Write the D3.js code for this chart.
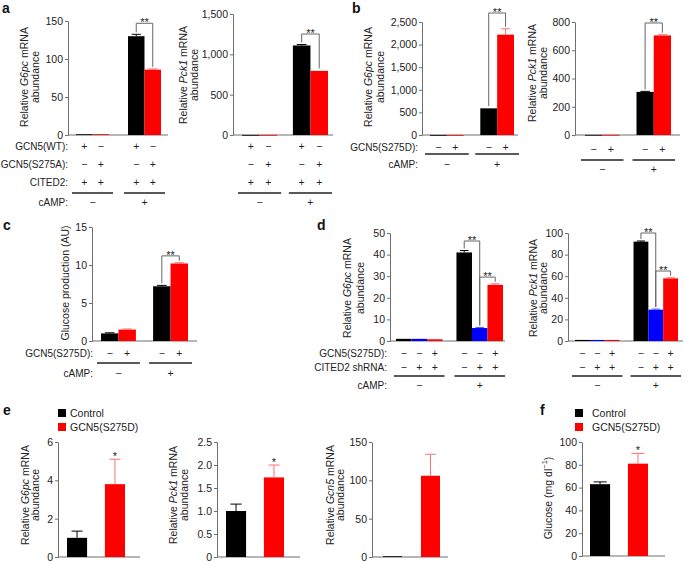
<!DOCTYPE html>
<html><head><meta charset="utf-8">
<script src="https://cdn.jsdelivr.net/npm/d3@7"></script>
<style>body{margin:0;background:#fff} svg{display:block}</style>
</head><body>
<svg id="fig" width="685" height="562"></svg>
<script>
// ---------- DATA ----------
const campGroups = ["cAMP −", "cAMP +"];
const campSigns = ["−", "+"];

// panel a
const aSeries = ["GCN5(WT)", "GCN5(S275A)"];
const aG6pcValues = [1.0, 1.0, 130, 86];
const aG6pcErrors = [0.3, 0.3, 2.5, 1.0];
const aG6pcTicks = [0, 50, 100, 150];
const aPck1Values = [1.0, 1.0, 1110, 795];
const aPck1Errors = [0.5, 0.5, 12, 5];
const aPck1Ticks = [0, 500, 1000, 1500];
const aRowLabels = ["GCN5(WT):", "GCN5(S275A):", "CITED2:"];
const aRowSigns = [["+", "−", "+", "−"], ["−", "+", "−", "+"], ["+", "+", "+", "+"]];

// panel b
const bSeries = ["Control", "GCN5(S275D)"];
const bG6pcValues = [1, 1, 590, 2220];
const bG6pcErrors = [0.5, 0.5, 5, 130];
const bG6pcTicks = [0, 500, 1000, 1500, 2000, 2500];
const bPck1Values = [1, 1, 305, 705];
const bPck1Errors = [0.3, 0.3, 4, 5];
const bPck1Ticks = [0, 200, 400, 600, 800];
const bRowLabels = ["GCN5(S275D):"];
const bRowSigns = [["−", "+", "−", "+"]];

// panel c
const cValues = [1.0, 1.5, 7.2, 10.2];
const cErrors = [0.08, 0.08, 0.12, 0.1];
const cTicks = [0, 5, 10, 15];

// panel d
const dSeries = ["Control", "CITED2 shRNA", "GCN5(S275D)+CITED2 shRNA"];
const dG6pcValues = [1, 1, 0.8, 41, 6, 26];
const dG6pcErrors = [0.1, 0.1, 0.1, 0.9, 0.3, 0.5];
const dG6pcTicks = [0, 10, 20, 30, 40, 50];
const dPck1Values = [1, 1, 1, 92, 29, 58];
const dPck1Errors = [0.2, 0.2, 0.2, 0.6, 0.6, 0.6];
const dPck1Ticks = [0, 20, 40, 60, 80, 100];
const dRowLabels = ["GCN5(S275D):", "CITED2 shRNA:"];
const dRowSigns = [["−", "−", "+", "−", "−", "+"], ["−", "+", "+", "−", "+", "+"]];

// panel e / f
const efGroups = ["mice"];
const efSeries = ["Control", "GCN5(S275D)"];
const eG6pcValues = [1.0, 3.8];
const eG6pcErrors = [0.35, 1.3];
const eG6pcTicks = [0, 2, 4, 6];
const ePck1Values = [1.0, 1.73];
const ePck1Errors = [0.15, 0.27];
const ePck1Ticks = [0, 0.5, 1.0, 1.5, 2.0, 2.5];
const eGcn5Values = [1, 106];
const eGcn5Errors = [0.3, 28];
const eGcn5Ticks = [0, 50, 100, 150];
const fValues = [63, 81];
const fErrors = [2, 9];
const fTicks = [0, 20, 40, 60, 80, 100];

// ---------- DRAWING ----------
const svg = d3.select("#fig");
const FONT = "Arial, 'Liberation Sans', Helvetica, sans-serif";
const TXT = "#222";
const AX = "#6e6e6e";
const BLACK = "#000", RED = "#ff0000", BLUE = "#0000ff";
const ERR = {"#000": "#000", "#ff0000": "#ff7070", "#0000ff": "#5050ff"};
const comma = d3.format(",");

function drawChart(c) {
  const g = svg.append("g");
  const y = d3.scaleLinear().domain([0, c.max]).range([c.y0, c.y1]);
  const gx = d3.scaleBand().domain(c.groups).range([c.g0, c.g1]).paddingInner(c.pad || 0);
  const sx = d3.scaleBand().domain(c.series).range([0, gx.bandwidth()]).paddingInner(c.innerPad || 0);
  const nS = c.series.length;
  const bars = c.values.map((v, i) => {
    const grp = c.groups[Math.floor(i / nS)], s = c.series[i % nS];
    const x = gx(grp) + sx(s);
    return {v, e: c.errors[i], x, w: sx.bandwidth(), cx: x + sx.bandwidth() / 2,
            color: c.colors[i % nS], top: y(v + c.errors[i])};
  });

  // axis
  const ax = g.append("g").attr("transform", `translate(${c.ax0},0)`)
    .call(d3.axisLeft(y).tickValues(c.ticks).tickFormat(c.fmt || d3.format("d"))
      .tickSize(3).tickSizeOuter(0).tickPadding(2));
  ax.attr("font-family", FONT).attr("font-size", 10.5);
  ax.select(".domain").attr("stroke", AX);
  ax.selectAll(".tick line").attr("stroke", AX);
  ax.selectAll(".tick text").attr("fill", TXT);
  g.append("line").attr("x1", c.ax0).attr("x2", c.ax1).attr("y1", c.y0).attr("y2", c.y0)
    .attr("stroke", AX).attr("stroke-width", 1);

  // bars
  g.selectAll("rect.bar").data(bars).join("rect").attr("class", "bar")
    .attr("x", d => d.x).attr("width", d => d.w)
    .attr("y", d => y(d.v)).attr("height", d => Math.max(0.8, c.y0 - y(d.v)))
    .attr("fill", d => d.color);

  // error bars
  const cap = c.cap || 0.55;
  bars.filter(d => d.e > 0 && (y(d.v) - d.top) > 0.5).forEach(d => {
    const col = ERR[d.color];
    g.append("line").attr("x1", d.cx).attr("x2", d.cx).attr("y1", y(d.v)).attr("y2", d.top)
      .attr("stroke", col).attr("stroke-width", 1);
    g.append("line").attr("x1", d.cx - d.w * cap / 2).attr("x2", d.cx + d.w * cap / 2)
      .attr("y1", d.top).attr("y2", d.top).attr("stroke", col).attr("stroke-width", 1);
  });

  // significance brackets
  (c.brackets || []).forEach(([i, j, lvl]) => {
    const a = bars[i], b = bars[j], by = y(lvl);
    g.append("path").attr("d", `M${a.cx},${a.top - 2}V${by}H${b.cx}V${b.top - 2}`)
      .attr("fill", "none").attr("stroke", "#666").attr("stroke-width", 1);
    g.append("text").attr("x", (a.cx + b.cx) / 2).attr("y", by + 3).attr("text-anchor", "middle")
      .attr("font-family", FONT).attr("font-size", 11).attr("fill", TXT).text("**");
  });
  (c.stars || []).forEach(([i, s]) => {
    const a = bars[i];
    g.append("text").attr("x", a.cx).attr("y", a.top + 1).attr("text-anchor", "middle")
      .attr("font-family", FONT).attr("font-size", 11).attr("fill", TXT).text(s);
  });

  // y label
  const lab = g.append("g");
  c.label.forEach((line, k) => {
    const t = lab.append("text")
      .attr("transform", `translate(${c.lx[k]},${c.ly}) rotate(-90)`)
      .attr("text-anchor", "middle").attr("dominant-baseline", "central")
      .attr("font-family", FONT).attr("font-size", 10.5).attr("fill", TXT);
    line.forEach(seg => {
      const ts = t.append("tspan").text(seg.t);
      if (seg.i) ts.attr("font-style", "italic");
      if (seg.sup) ts.attr("dy", -4).attr("font-size", 7.5);
      if (seg.unsup) ts.attr("dy", 4);
    });
  });

  // condition rows
  if (c.rowSigns) {
    c.rowSigns.forEach((signs, r) => {
      if (c.rowLabels) {
        g.append("text").attr("x", c.rowLabelX).attr("y", c.rowYs[r]).attr("text-anchor", "end")
          .attr("dominant-baseline", "central").attr("font-family", FONT).attr("font-size", 10)
          .attr("fill", TXT).text(c.rowLabels[r]);
      }
      bars.forEach((d, i) => {
        g.append("text").attr("x", d.cx).attr("y", c.rowYs[r]).attr("text-anchor", "middle")
          .attr("dominant-baseline", "central").attr("font-family", FONT).attr("font-size", 10.5)
          .attr("fill", TXT).text(signs[i]);
      });
    });
    c.groups.forEach((grp, k) => {
      g.append("line").attr("x1", gx(grp) - c.lineExt).attr("x2", gx(grp) + gx.bandwidth() + c.lineExt)
        .attr("y1", c.lineY).attr("y2", c.lineY).attr("stroke", "#222").attr("stroke-width", 1.3);
      g.append("text").attr("x", gx(grp) + gx.bandwidth() / 2).attr("y", c.campY)
        .attr("text-anchor", "middle").attr("dominant-baseline", "central")
        .attr("font-family", FONT).attr("font-size", 10.5).attr("fill", TXT).text(campSigns[k]);
    });
    if (c.rowLabels) {
      g.append("text").attr("x", c.rowLabelX).attr("y", c.campY).attr("text-anchor", "end")
        .attr("dominant-baseline", "central").attr("font-family", FONT).attr("font-size", 10)
        .attr("fill", TXT).text("cAMP:");
    }
  }
}

const L = (pre, gene, post) => [{t: pre}, {t: gene, i: true}, {t: post}];
const AB = [{t: "abundance"}];

// panel a
drawChart({groups: campGroups, series: aSeries, values: aG6pcValues, errors: aG6pcErrors,
  colors: [BLACK, RED], ticks: aG6pcTicks, max: 150, ax0: 68, ax1: 168, y0: 135, y1: 21,
  g0: 76, g1: 161, pad: 0.365, brackets: [[2, 3, 147]],
  label: [L("Relative ", "G6pc", " mRNA"), AB], lx: [24, 35], ly: 77,
  rowLabels: aRowLabels, rowSigns: aRowSigns, rowLabelX: 68, rowYs: [146, 164, 182],
  lineY: 193, campY: 202, lineExt: 4});
drawChart({groups: campGroups, series: aSeries, values: aPck1Values, errors: aPck1Errors,
  colors: [BLACK, RED], ticks: aPck1Ticks, fmt: comma, max: 1500, ax0: 233, ax1: 333, y0: 135, y1: 14,
  g0: 242, g1: 328, pad: 0.31, brackets: [[2, 3, 1252]],
  label: [L("Relative ", "Pck1", " mRNA"), AB], lx: [183, 194], ly: 75,
  rowSigns: aRowSigns, rowYs: [146, 164, 182], lineY: 193, campY: 202, lineExt: 4});

// panel b
drawChart({groups: campGroups, series: bSeries, values: bG6pcValues, errors: bG6pcErrors,
  colors: [BLACK, RED], ticks: bG6pcTicks, fmt: comma, max: 2500, ax0: 422, ax1: 518, y0: 135, y1: 22,
  g0: 430, g1: 514, pad: 0.33, brackets: [[2, 3, 2699]],
  label: [L("Relative ", "G6pc", " mRNA"), AB], lx: [368, 380], ly: 77,
  rowLabels: bRowLabels, rowSigns: bRowSigns, rowLabelX: 418, rowYs: [147],
  lineY: 154, campY: 164, lineExt: 5});
drawChart({groups: campGroups, series: bSeries, values: bPck1Values, errors: bPck1Errors,
  colors: [BLACK, RED], ticks: bPck1Ticks, max: 800, ax0: 575, ax1: 680, y0: 135, y1: 22,
  g0: 585, g1: 671, pad: 0.33, brackets: [[2, 3, 793]],
  label: [L("Relative ", "Pck1", " mRNA"), AB], lx: [532, 543], ly: 73,
  rowSigns: bRowSigns, rowYs: [149], lineY: 160, campY: 169, lineExt: 4});

// panel c
drawChart({groups: campGroups, series: bSeries, values: cValues, errors: cErrors,
  colors: [BLACK, RED], ticks: cTicks, max: 15, ax0: 92, ax1: 197, y0: 341, y1: 227,
  g0: 101, g1: 188, pad: 0.33, brackets: [[2, 3, 11.2]],
  label: [[{t: "Glucose production (AU)"}]], lx: [65], ly: 283,
  rowLabels: bRowLabels, rowSigns: bRowSigns, rowLabelX: 93, rowYs: [353],
  lineY: 363, campY: 373, lineExt: 4});

// panel d
drawChart({groups: campGroups, series: dSeries, values: dG6pcValues, errors: dG6pcErrors,
  colors: [BLACK, BLUE, RED], ticks: dG6pcTicks, max: 50, ax0: 390, ax1: 505, y0: 341, y1: 233,
  g0: 396, g1: 503, pad: 0.23, brackets: [[3, 4, 46.3], [4, 5, 29.6]],
  label: [L("Relative ", "G6pc", " mRNA"), AB], lx: [347, 360], ly: 288,
  rowLabels: dRowLabels, rowSigns: dRowSigns, rowLabelX: 387, rowYs: [353, 367],
  lineY: 376, campY: 385, lineExt: 2});
drawChart({groups: campGroups, series: dSeries, values: dPck1Values, errors: dPck1Errors,
  colors: [BLACK, BLUE, RED], ticks: dPck1Ticks, max: 100, ax0: 568, ax1: 683, y0: 341, y1: 233,
  g0: 575, g1: 678, pad: 0.24, brackets: [[3, 4, 100], [4, 5, 64.8]],
  label: [L("Relative ", "Pck1", " mRNA"), AB], lx: [533, 543], ly: 288,
  rowSigns: dRowSigns, rowYs: [353, 367], lineY: 376, campY: 385, lineExt: 3});

// panel e
drawChart({groups: efGroups, series: efSeries, values: eG6pcValues, errors: eG6pcErrors,
  colors: [BLACK, RED], ticks: eG6pcTicks, max: 6, ax0: 58, ax1: 140, y0: 557, y1: 442,
  g0: 67, g1: 125, innerPad: 0.47, stars: [[1, "*"]],
  label: [L("Relative ", "G6pc", " mRNA"), AB], lx: [25, 35], ly: 495});
drawChart({groups: efGroups, series: efSeries, values: ePck1Values, errors: ePck1Errors,
  colors: [BLACK, RED], ticks: ePck1Ticks, fmt: d => d === 0 ? "0" : d3.format(".1f")(d),
  max: 2.5, ax0: 217, ax1: 300, y0: 557, y1: 442,
  g0: 226, g1: 284, innerPad: 0.47, stars: [[1, "*"]],
  label: [L("Relative ", "Pck1", " mRNA"), AB], lx: [173, 184], ly: 495});
drawChart({groups: efGroups, series: efSeries, values: eGcn5Values, errors: eGcn5Errors,
  colors: [BLACK, RED], ticks: eGcn5Ticks, max: 150, ax0: 372, ax1: 448, y0: 557, y1: 442,
  g0: 383, g1: 440, innerPad: 0.5,
  label: [L("Relative ", "Gcn5", " mRNA"), AB], lx: [330, 340], ly: 495});

// panel f
drawChart({groups: efGroups, series: efSeries, values: fValues, errors: fErrors,
  colors: [BLACK, RED], ticks: fTicks, max: 100, ax0: 582, ax1: 665, y0: 556, y1: 442,
  g0: 590, g1: 648, innerPad: 0.47, stars: [[1, "*"]], cap: 0.65,
  label: [[{t: "Glucose (mg dl"}, {t: "−1", sup: true}, {t: ")", unsup: true}]], lx: [548], ly: 498});

// legends
function legend(x, y0, textOff) {
  efSeries.forEach((s, k) => {
    svg.append("rect").attr("x", x).attr("y", y0 + k * 14 - 4).attr("width", 8).attr("height", 8)
      .attr("fill", [BLACK, RED][k]);
    svg.append("text").attr("x", x + textOff).attr("y", y0 + k * 14).attr("dominant-baseline", "central")
      .attr("font-family", FONT).attr("font-size", 10.5).attr("fill", TXT).text(s);
  });
}
legend(58, 413, 12);
legend(575, 413, 17);

// panel letters
[["a", 2, 13], ["b", 352, 13], ["c", 3, 230], ["d", 317, 230], ["e", 3, 415], ["f", 540, 415]]
  .forEach(([t, x, y]) => svg.append("text").attr("x", x).attr("y", y)
    .attr("font-family", FONT).attr("font-weight", "bold").attr("font-size", 14).attr("fill", "#111").text(t));
</script></body></html>
